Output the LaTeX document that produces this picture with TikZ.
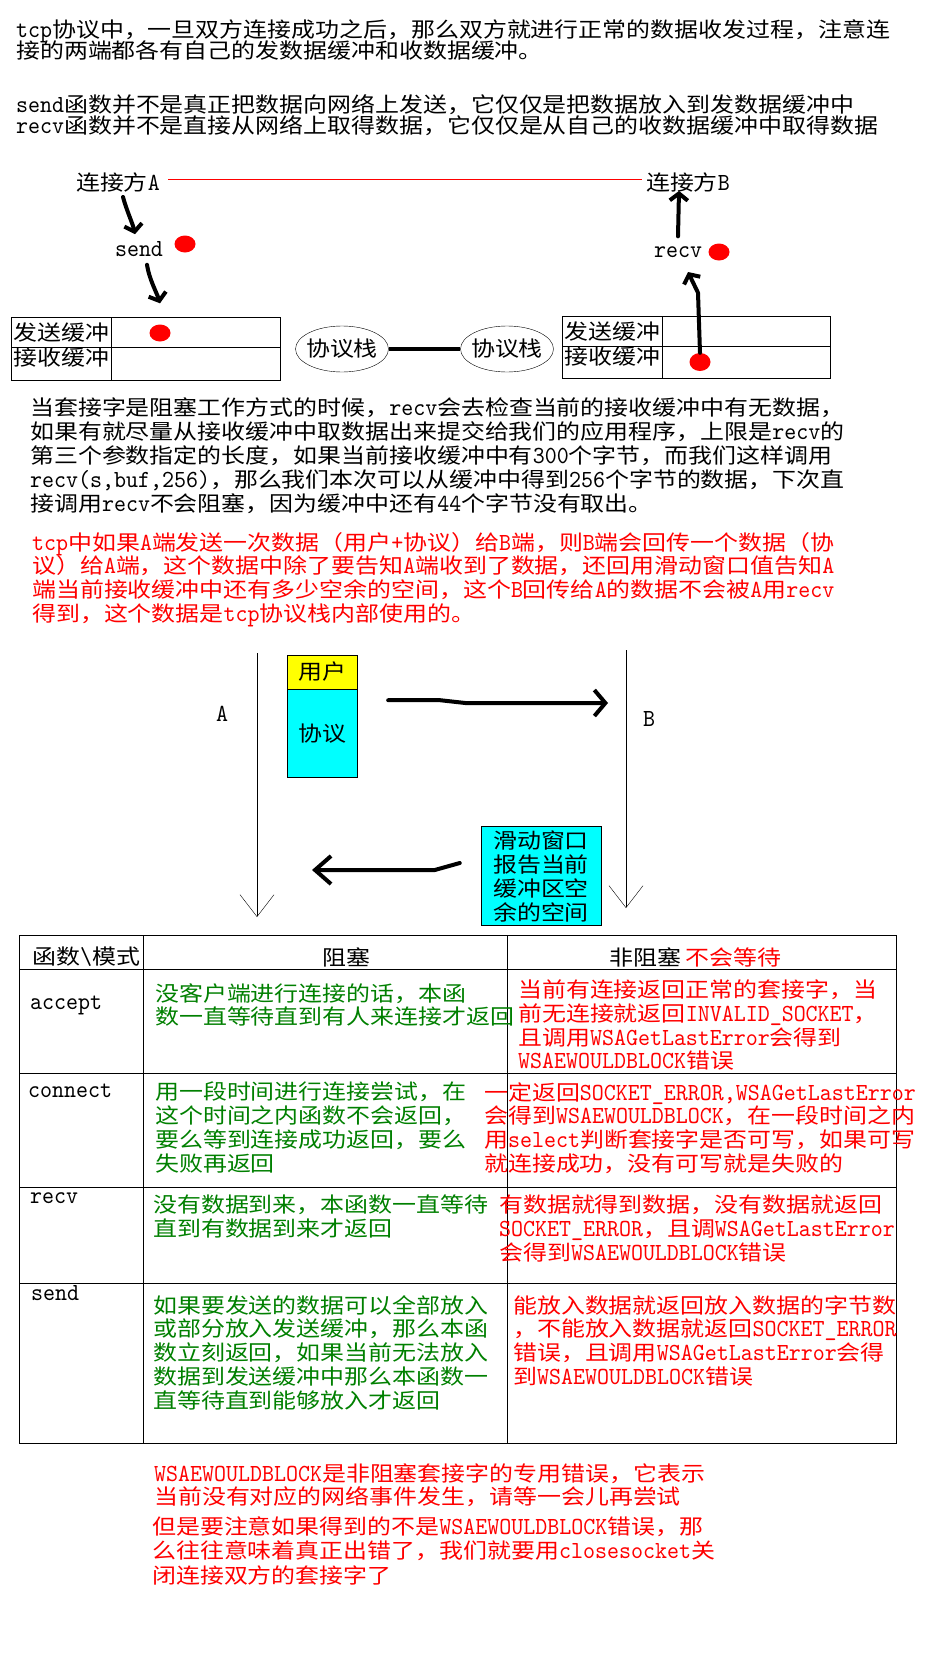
\documentclass[tikz,border=0pt]{standalone}
\usepackage{fontspec}
\setmainfont[Scale=1.17,FakeStretch=0.93]{lmmono10-regular.otf}
\newfontfamily\latf[Scale=1.17,FakeStretch=0.93]{lmmono10-regular.otf}
\newfontfamily\cjkf[FakeStretch=1.14]{Noto Sans CJK SC}
\usetikzlibrary{arrows.meta, shapes.geometric, positioning}
\definecolor{wingreen}{RGB}{0,128,0}
\definecolor{aqua}{RGB}{0,255,255}
\definecolor{lemon}{RGB}{255,255,0}
\newcommand{\setbsk}[1]{\fontsize{21}{#1}\selectfont\lineskiplimit=-40pt\relax}

% Latin and CJK runs each get their own font
\XeTeXinterchartokenstate=1
\newcount\cjkcode
\cjkcode="2E80
\loop\XeTeXcharclass\cjkcode=200 \ifnum\cjkcode<"9FFF \advance\cjkcode by 1 \repeat
\cjkcode="FF00
\loop\XeTeXcharclass\cjkcode=200 \ifnum\cjkcode<"FFEF \advance\cjkcode by 1 \repeat
\XeTeXinterchartoks 0 200 = {\cjkf}
\XeTeXinterchartoks 4095 200 = {\cjkf}
\XeTeXinterchartoks 200 0 = {\latf}
\XeTeXinterchartoks 4095 0 = {\latf}

\begin{document}
\begin{tikzpicture}[x=1pt, y=-1pt, font=\setbsk{24}, inner sep=0pt,
    txt/.style={anchor=north west, align=left},
    hand/.style={line width=4pt, line cap=round, line join=round,
      -{Straight Barb[length=7pt,width=18pt]}},
    life/.style={-{Straight Barb[length=22pt,width=34pt]}},
    dot/.style={ellipse, fill=red, minimum width=21pt, minimum height=17pt},
    stack/.style={ellipse, draw, minimum width=93pt, minimum height=46pt},
    msgbox/.style={draw, minimum width=70pt}]

  \fill[white] (0,0) rectangle (924,1662);
  \useasboundingbox (0,0) rectangle (924,1662);

  \node[txt, font=\setbsk{21.5}] (intro) at (16,19) {tcp协议中，一旦双方连接成功之后，那么双方就进行正常的数据收发过程，注意连\\接的两端都各有自己的发数据缓冲和收数据缓冲。};
  \node[txt, font=\setbsk{21.5}] (calls) at (16,94) {send函数并不是真正把数据向网络上发送，它仅仅是把数据放入到发数据缓冲中\\recv函数并不是直接从网络上取得数据，它仅仅是从自己的收数据缓冲中取得数据};

  % the two peers
  \node (peer-a) at (118,182) {连接方A};
  \node (peer-b) at (688,182) {连接方B};
  \draw[red] ([shift={(8pt,3pt)}]peer-a.east) -- ([shift={(-4pt,3pt)}]peer-b.west);
  \node (send) at (139,249) {send};
  \node (recv) at (678,252) {recv};

  \draw (11,317) rectangle (280,380) (11,347) -- (280,347) (111,317) -- (111,380);
  \draw (562,316) rectangle (830,378) (562,346) -- (830,346) (662,316) -- (662,378);
  \node[anchor=west] (sbuf-a) at (13,333) {发送缓冲};
  \node[anchor=west] (rbuf-a) at (13,358) {接收缓冲};
  \node[anchor=west] (sbuf-b) at (564,332) {发送缓冲};
  \node[anchor=west] (rbuf-b) at (564,357) {接收缓冲};

  \node[stack] (stack-a) at (342,349) {\makebox[0pt]{协议栈}};
  \node[stack] (stack-b) at (507,349) {\makebox[0pt]{协议栈}};
  \draw[line width=4.5pt] (stack-a) -- (stack-b);

  \coordinate (recv-in) at (688,272);
  \node[dot] (sbuf-dot) at (160,333) {};
  \node[dot, minimum height=18pt] (rbuf-dot) at (700,362) {};
  \draw[hand] ([shift={(5pt,-5pt)}]peer-a.south) .. controls +(3,12) and +(-2,-10) .. ([shift={(-4pt,7pt)}]send.north);
  \draw[hand] ([shift={(8pt,-8pt)}]send.south) .. controls +(2,14) and +(-3,-10) .. ([yshift=21pt]sbuf-dot.north);
  \draw[hand] (rbuf-dot.north) -- ++(-2,-60) -- (recv-in);
  \draw[hand] ([yshift=10pt]recv.north) -- ([shift={(-9pt,1pt)}]peer-b.south);
  \node[dot] (send-dot) at (185,244) {};
  \node[dot] (recv-dot) at (719,252) {};

  \node[txt] (blocking) at (30,398) {当套接字是阻塞工作方式的时候，recv会去检查当前的接收缓冲中有无数据，\\如果有就尽量从接收缓冲中取数据出来提交给我们的应用程序，上限是recv的\\第三个参数指定的长度，如果当前接收缓冲中有300个字节，而我们这样调用\\recv(s,buf,256)，那么我们本次可以从缓冲中得到256个字节的数据，下次直\\接调用recv不会阻塞，因为缓冲中还有44个字节没有取出。};
  \node[txt, text=red, font=\setbsk{23.7}] (ack-note) at (32,532) {tcp中如果A端发送一次数据（用户+协议）给B端，则B端会回传一个数据（协\\议）给A端，这个数据中除了要告知A端收到了数据，还回用滑动窗口值告知A\\端当前接收缓冲中还有多少空余的空间，这个B回传给A的数据不会被A用recv\\得到，这个数据是tcp协议栈内部使用的。};

  % segment and window update
  \coordinate (a-top) at (257,653);
  \coordinate (a-end) at (257,917);
  \coordinate (b-top) at (626,650);
  \coordinate (b-end) at (626,908);
  \coordinate (to-b) at (608,703);
  \coordinate (to-a) at (312,870);
  \draw[life] (a-top) -- (a-end);
  \draw[life] (b-top) -- (b-end);
  \node (a-lbl) at (222,714) {A};
  \node (b-lbl) at (649,719) {B};
  \node[msgbox, fill=lemon, minimum height=34pt] (user) at (322,672) {用户};
  \node[msgbox, fill=aqua, minimum height=88pt, below=0pt of user] (proto) {协议};
  \node[draw, fill=aqua, minimum width=120pt, minimum height=99pt, align=left] (window) at (541,876) {滑动窗口\\报告当前\\缓冲区空\\余的空间};
  \draw[hand, -{Straight Barb[length=11pt,width=26pt]}] ([shift={(31pt,-11pt)}]proto.north east) -- ++(52,0) -- ++(27,3) -- (to-b);
  \draw[hand, -{Straight Barb[length=16pt,width=28pt]}] ([shift={(-21pt,13pt)}]window.west) -- ++(-25,7) -- (to-a);

  % table of calls
  \draw (19,935) rectangle (896,1443);
  \foreach \y in {969,1073,1187,1283} \draw (19,\y) -- (896,\y);
  \foreach \x in {143,507} \draw (\x,935) -- (\x,1443);
  \node[anchor=west] (hdr-func) at (32,957) {函数\textbackslash{}模式};
  \node[anchor=west] (hdr-block) at (322,957) {阻塞};
  \node[anchor=west] (hdr-nonblock) at (609,957) {非阻塞};
  \node[anchor=west, text=red] (hdr-wait) at (685,957) {不会等待};

  \node[anchor=west] (fn-accept) at (30,1005) {accept};
  \node[txt, text=wingreen, font=\setbsk{23}] (accept-b) at (155,983) {没客户端进行连接的话，本函\\数一直等待直到有人来连接才返回};
  \node[txt, text=red, font=\setbsk{23.5}] (accept-n) at (518,980) {当前有连接返回正常的套接字，当\\前无连接就返回INVALID\_SOCKET，\\且调用WSAGetLastError会得到\\WSAEWOULDBLOCK错误};

  \node[anchor=west] (fn-connect) at (28,1091) {connect};
  \node[txt, text=wingreen, font=\setbsk{23.7}] (connect-b) at (155,1082) {用一段时间进行连接尝试，在\\这个时间之内函数不会返回，\\要么等到连接成功返回，要么\\失败再返回};
  \node[txt, text=red, font=\setbsk{23.7}] (connect-n) at (484,1082) {一定返回SOCKET\_ERROR,WSAGetLastError\\会得到WSAEWOULDBLOCK，在一段时间之内\\用select判断套接字是否可写，如果可写\\就连接成功，没有可写就是失败的};

  \node[anchor=west] (fn-recv) at (30,1198) {recv};
  \node[txt, text=wingreen, font=\setbsk{23.7}] (recv-b) at (153,1195) {没有数据到来，本函数一直等待\\直到有数据到来才返回};
  \node[txt, text=red, font=\setbsk{23.7}] (recv-n) at (499,1195) {有数据就得到数据，没有数据就返回\\SOCKET\_ERROR，且调WSAGetLastError\\会得到WSAEWOULDBLOCK错误};

  \node[anchor=west] (fn-send) at (31,1293) {send};
  \node[txt, text=wingreen, font=\setbsk{23.8}] (send-b) at (153,1295) {如果要发送的数据可以全部放入\\或部分放入发送缓冲，那么本函\\数立刻返回，如果当前无法放入\\数据到发送缓冲中那么本函数一\\直等待直到能够放入才返回};
  \node[txt, text=red, font=\setbsk{23.8}] (send-n) at (513,1295) {能放入数据就返回放入数据的字节数\\，不能放入数据就返回SOCKET\_ERROR\\错误，且调用WSAGetLastError会得\\到WSAEWOULDBLOCK错误};

  \node[txt, text=red, font=\setbsk{23}] (would-block) at (154,1463) {WSAEWOULDBLOCK是非阻塞套接字的专用错误，它表示\\当前没有对应的网络事件发生，请等一会儿再尝试};
  \node[txt, text=red, font=\setbsk{24.5}] (real-error) at (152,1516) {但是要注意如果得到的不是WSAEWOULDBLOCK错误，那\\么往往意味着真正出错了，我们就要用closesocket关\\闭连接双方的套接字了};
\end{tikzpicture}
\end{document}
